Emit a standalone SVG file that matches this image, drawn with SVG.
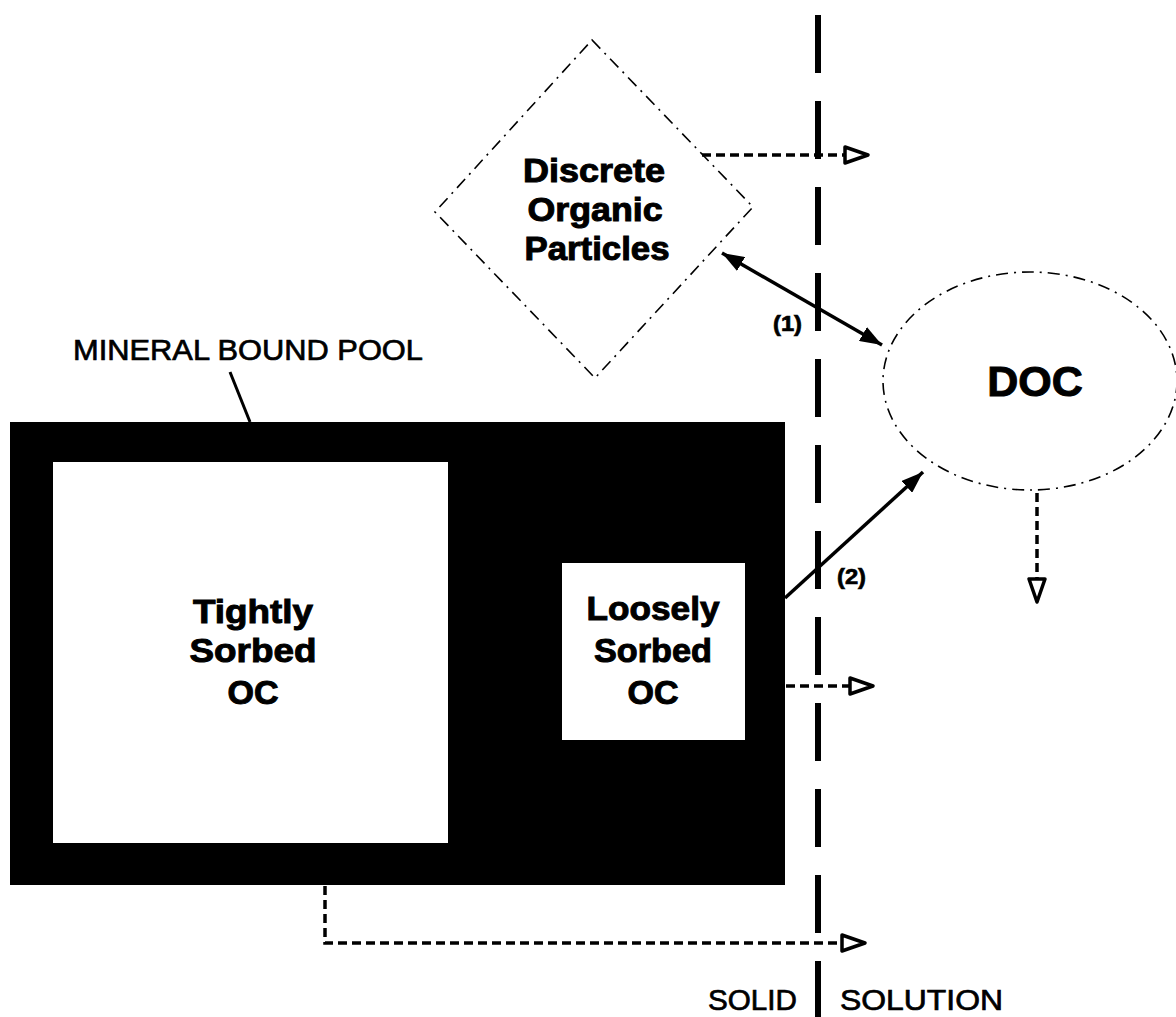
<svg xmlns="http://www.w3.org/2000/svg" width="1176" height="1017" viewBox="0 0 1176 1017">
<style>
.node-text{font-family:"Liberation Sans",Arial,sans-serif;font-weight:bold;fill:#000;stroke:#000;stroke-width:1;text-anchor:middle}
.label{font-family:"Liberation Sans",Arial,sans-serif;fill:#000;stroke:#000;stroke-width:0.7}
.outline{fill:#fff;stroke:#000;stroke-width:1.6;stroke-dasharray:12 6 2 6}
.dashed{fill:none;stroke:#000;stroke-width:3.5;stroke-dasharray:9 5}
.solid{fill:none;stroke:#000;stroke-width:3.5}
</style>
<defs>
<marker id="open" markerUnits="userSpaceOnUse" viewBox="-3 -3 30 22" markerWidth="30" markerHeight="22" refX="23" refY="8" orient="auto">
<path d="M0,0 L23,8 L0,16 Z" fill="#fff" stroke="#000" stroke-width="3.5" stroke-linejoin="round"/>
</marker>
<marker id="filled" markerUnits="userSpaceOnUse" viewBox="0 0 22 16" markerWidth="22" markerHeight="16" refX="22" refY="8" orient="auto-start-reverse">
<path d="M0,0 L22,8 L0,16 Z" fill="#000"/>
</marker>
</defs>

<g id="boundary">
<line x1="818" y1="15" x2="818" y2="1017" stroke="#000" stroke-width="6" stroke-dasharray="58 28"/>
</g>

<g id="mineral-bound-pool">
<rect x="10" y="422" width="775" height="463" fill="#000"/>
<line x1="230" y1="372" x2="250" y2="422" stroke="#000" stroke-width="3"/>
<text class="label" x="73" y="360" font-size="29" textLength="350" lengthAdjust="spacingAndGlyphs">MINERAL BOUND POOL</text>
</g>

<g id="tightly-sorbed">
<rect x="53" y="462" width="395" height="381" fill="#fff"/>
<text class="node-text" x="253" y="623" font-size="34" textLength="120" lengthAdjust="spacingAndGlyphs">Tightly</text>
<text class="node-text" x="253" y="662" font-size="34" textLength="127" lengthAdjust="spacingAndGlyphs">Sorbed</text>
<text class="node-text" x="253" y="704" font-size="34">OC</text>
</g>

<g id="loosely-sorbed">
<rect x="562" y="563" width="183" height="177" fill="#fff"/>
<text class="node-text" x="653" y="620" font-size="34" textLength="133" lengthAdjust="spacingAndGlyphs">Loosely</text>
<text class="node-text" x="653" y="662" font-size="34" textLength="118" lengthAdjust="spacingAndGlyphs">Sorbed</text>
<text class="node-text" x="653" y="704" font-size="34">OC</text>
</g>

<g id="discrete-organic-particles">
<polygon class="outline" points="592,40 753,207 595,378 435,212"/>
<text class="node-text" x="594" y="182" font-size="33" textLength="142" lengthAdjust="spacingAndGlyphs">Discrete</text>
<text class="node-text" x="595" y="221" font-size="33" textLength="135" lengthAdjust="spacingAndGlyphs">Organic</text>
<text class="node-text" x="597" y="260" font-size="33" textLength="145" lengthAdjust="spacingAndGlyphs">Particles</text>
</g>

<g id="doc">
<ellipse class="outline" cx="1030" cy="381" rx="147" ry="109"/>
<text class="node-text" x="1035" y="396" font-size="43">DOC</text>
</g>

<g id="connectors">
<line class="dashed" x1="702" y1="155" x2="868" y2="155" marker-end="url(#open)"/>
<line class="dashed" x1="786" y1="686" x2="873" y2="686" marker-end="url(#open)"/>
<polyline class="dashed" points="325,886 325,943 865,943" marker-end="url(#open)"/>
<line class="dashed" x1="1037" y1="493" x2="1037" y2="602" marker-end="url(#open)"/>
<line class="solid" x1="722" y1="253" x2="882" y2="345" marker-start="url(#filled)" marker-end="url(#filled)"/>
<line class="solid" x1="785" y1="598" x2="923" y2="472" marker-end="url(#filled)"/>
<text class="label" x="773" y="331" font-size="22" font-weight="bold" textLength="29" lengthAdjust="spacingAndGlyphs">(1)</text>
<text class="label" x="837" y="584" font-size="22" font-weight="bold" textLength="29" lengthAdjust="spacingAndGlyphs">(2)</text>
</g>

<g id="phase-labels">
<text class="label" x="708" y="1010" font-size="29" textLength="89" lengthAdjust="spacingAndGlyphs">SOLID</text>
<text class="label" x="840" y="1010" font-size="29" textLength="163" lengthAdjust="spacingAndGlyphs">SOLUTION</text>
</g>
</svg>
